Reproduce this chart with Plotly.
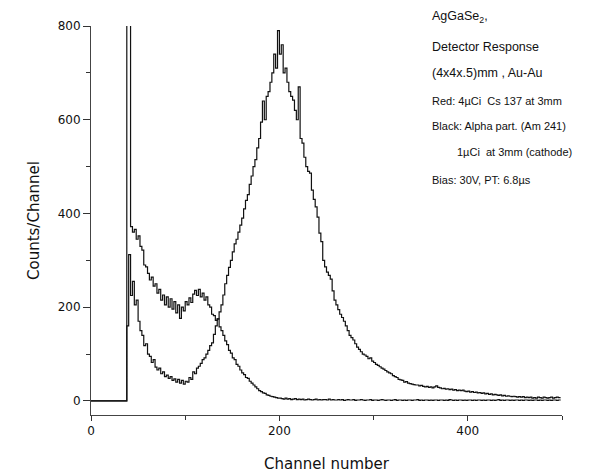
import plotly.graph_objects as go

channels = list(range(0, 500, 2))

# Red in original: 4 uCi Cs 137 at 3mm
cs137_counts = [
    0, 0, 0, 0, 0, 0, 0, 0, 0, 0,
    0, 0, 0, 0, 0, 0, 0, 0, 0, 2000,
    2000, 372, 360, 366, 345, 352, 330, 322, 290, 286,
    272, 258, 264, 245, 250, 230, 238, 215, 226, 205,
    222, 200, 218, 196, 212, 188, 205, 176, 200, 192,
    212, 205, 220, 210, 228, 236, 225, 238, 222, 230,
    215, 222, 205, 200, 185, 182, 172, 175, 158, 150,
    140, 128, 120, 108, 102, 92, 88, 78, 74, 66,
    60, 56, 50, 48, 42, 38, 34, 30, 26, 22,
    20, 17, 16, 13, 12, 10, 9, 8, 7, 6,
    6, 5, 4, 6, 4, 5, 3, 4, 5, 3,
    4, 3, 4, 2, 3, 4, 3, 2, 3, 4,
    2, 3, 2, 3, 3, 2, 4, 2, 3, 2,
    2, 3, 2, 3, 1, 2, 3, 2, 2, 3,
    1, 2, 2, 3, 2, 1, 2, 2, 3, 1,
    2, 2, 1, 2, 3, 2, 1, 2, 2, 1,
    2, 3, 1, 2, 2, 1, 2, 1, 2, 2,
    1, 2, 2, 3, 1, 2, 1, 2, 2, 1,
    2, 1, 2, 2, 1, 2, 2, 1, 2, 1,
    3, 2, 1, 2, 1, 2, 2, 1, 2, 1,
    2, 2, 1, 2, 1, 2, 2, 1, 2, 1,
    2, 2, 1, 2, 1, 2, 3, 1, 2, 1,
    2, 2, 1, 2, 1, 2, 2, 1, 2, 1,
    2, 2, 1, 2, 1, 2, 2, 1, 2, 1,
    2, 2, 1, 2, 1, 2, 2, 1, 2, 1,
]

# Black in original: alpha particles (Am 241) 1 uCi at 3mm (cathode)
alpha_counts = [
    0, 0, 0, 0, 0, 0, 0, 0, 0, 0,
    0, 0, 0, 0, 0, 0, 0, 0, 0, 160,
    312, 225, 255, 205, 215, 170, 150, 140, 118, 122,
    100, 95, 82, 88, 72, 66, 70, 58, 62, 52,
    55, 48, 52, 44, 47, 40, 46, 38, 44, 36,
    42, 40, 50, 46, 62, 58, 70, 74, 80, 88,
    92, 100, 108, 118, 124, 142, 160, 175, 190, 205,
    226, 250, 268, 285, 300, 318, 335, 345, 360, 375,
    390, 410, 428, 440, 462, 480, 500, 515, 540, 560,
    595, 640, 600, 650, 660, 680, 700, 740, 710, 790,
    740, 760, 700, 710, 680, 660, 650, 642, 620, 600,
    670, 560, 550, 520, 500, 490, 486, 450, 430, 414,
    392, 358, 340, 300, 286, 275, 268, 260, 235, 215,
    205, 195, 185, 178, 170, 160, 150, 140, 135, 130,
    122, 115, 110, 105, 100, 98, 95, 90, 92, 85,
    82, 78, 76, 73, 70, 68, 65, 62, 60, 58,
    54, 52, 50, 46, 45, 44, 40, 41, 38, 37,
    36, 35, 34, 34, 32, 33, 31, 30, 31, 29,
    30, 28, 30, 32, 29, 28, 26, 27, 25, 26,
    24, 25, 23, 24, 22, 23, 22, 23, 21, 20,
    21, 19, 20, 18, 19, 17, 18, 16, 17, 15,
    16, 14, 15, 13, 14, 13, 12, 13, 11, 12,
    10, 11, 10, 9, 10, 9, 8, 9, 8, 9,
    7, 8, 7, 8, 6, 7, 6, 8, 7, 6,
    8, 7, 6, 7, 8, 6, 7, 8, 7, 8,
]

y_ticks = [0, 200, 400, 600, 800]
x_ticks = [0, 200, 400]

notes = [
    ("AgGaSe<sub>2</sub>,", 0.7197, 1.023, 12.5),
    ("Detector Response", 0.7197, 0.946, 12.5),
    ("(4x4x.5)mm , Au-Au", 0.7197, 0.879, 12.5),
    ("Red: 4µCi  Cs 137 at 3mm", 0.7197, 0.807, 11),
    ("Black: Alpha part. (Am 241)", 0.7197, 0.743, 11),
    ("1µCi  at 3mm (cathode)", 0.773, 0.676, 11),
    ("Bias: 30V, PT: 6.8µs", 0.7197, 0.604, 11),
]

fig = go.Figure()
fig.add_trace(go.Scatter(x=channels, y=cs137_counts, mode="lines",
                         line=dict(color="#111111", width=1.2, shape="hv"),
                         name="Cs 137", showlegend=False))
fig.add_trace(go.Scatter(x=channels, y=alpha_counts, mode="lines",
                         line=dict(color="#111111", width=1.2, shape="hv"),
                         name="Am 241", showlegend=False))

for text, x, y, size in notes:
    fig.add_annotation(text=text, x=x, y=y, xref="paper", yref="paper",
                       xanchor="left", yanchor="middle", showarrow=False,
                       font=dict(family="Liberation Sans, Arial", size=size, color="#111111"))

# page body has an 8px margin, so the figure is sized to fill the rest of the window
fig.update_layout(
    width=589, height=465, autosize=False,
    margin=dict(l=83, r=35, t=18, b=58),
    plot_bgcolor="white", paper_bgcolor="white",
    font=dict(family="Liberation Sans, Arial", color="#111111"),
)
fig.update_xaxes(
    range=[0, 500], tickvals=x_ticks, ticks="outside", ticklen=5, tickwidth=1,
    tickcolor="#333333", showline=True, linecolor="#444444", linewidth=1,
    showgrid=False, zeroline=False, automargin=False,
    minor=dict(dtick=100, tick0=0, ticks="outside", ticklen=4, tickcolor="#333333", showgrid=False),
    tickfont=dict(size=12, family="DejaVu Sans"),
    title=dict(text="Channel number", font=dict(size=15, family="DejaVu Sans"), standoff=22),
)
fig.update_yaxes(
    range=[-30, 800], tickvals=y_ticks, ticks="outside", ticklen=7, tickwidth=1,
    tickcolor="#333333", showline=True, linecolor="#444444", linewidth=1,
    showgrid=False, zeroline=False, automargin=False,
    minor=dict(dtick=100, tick0=0, ticks="outside", ticklen=4, tickcolor="#333333", showgrid=False),
    tickfont=dict(size=12, family="DejaVu Sans"),
    title=dict(text="Counts/Channel", font=dict(size=15, family="DejaVu Sans"), standoff=14),
)

fig.write_html("out.html")
